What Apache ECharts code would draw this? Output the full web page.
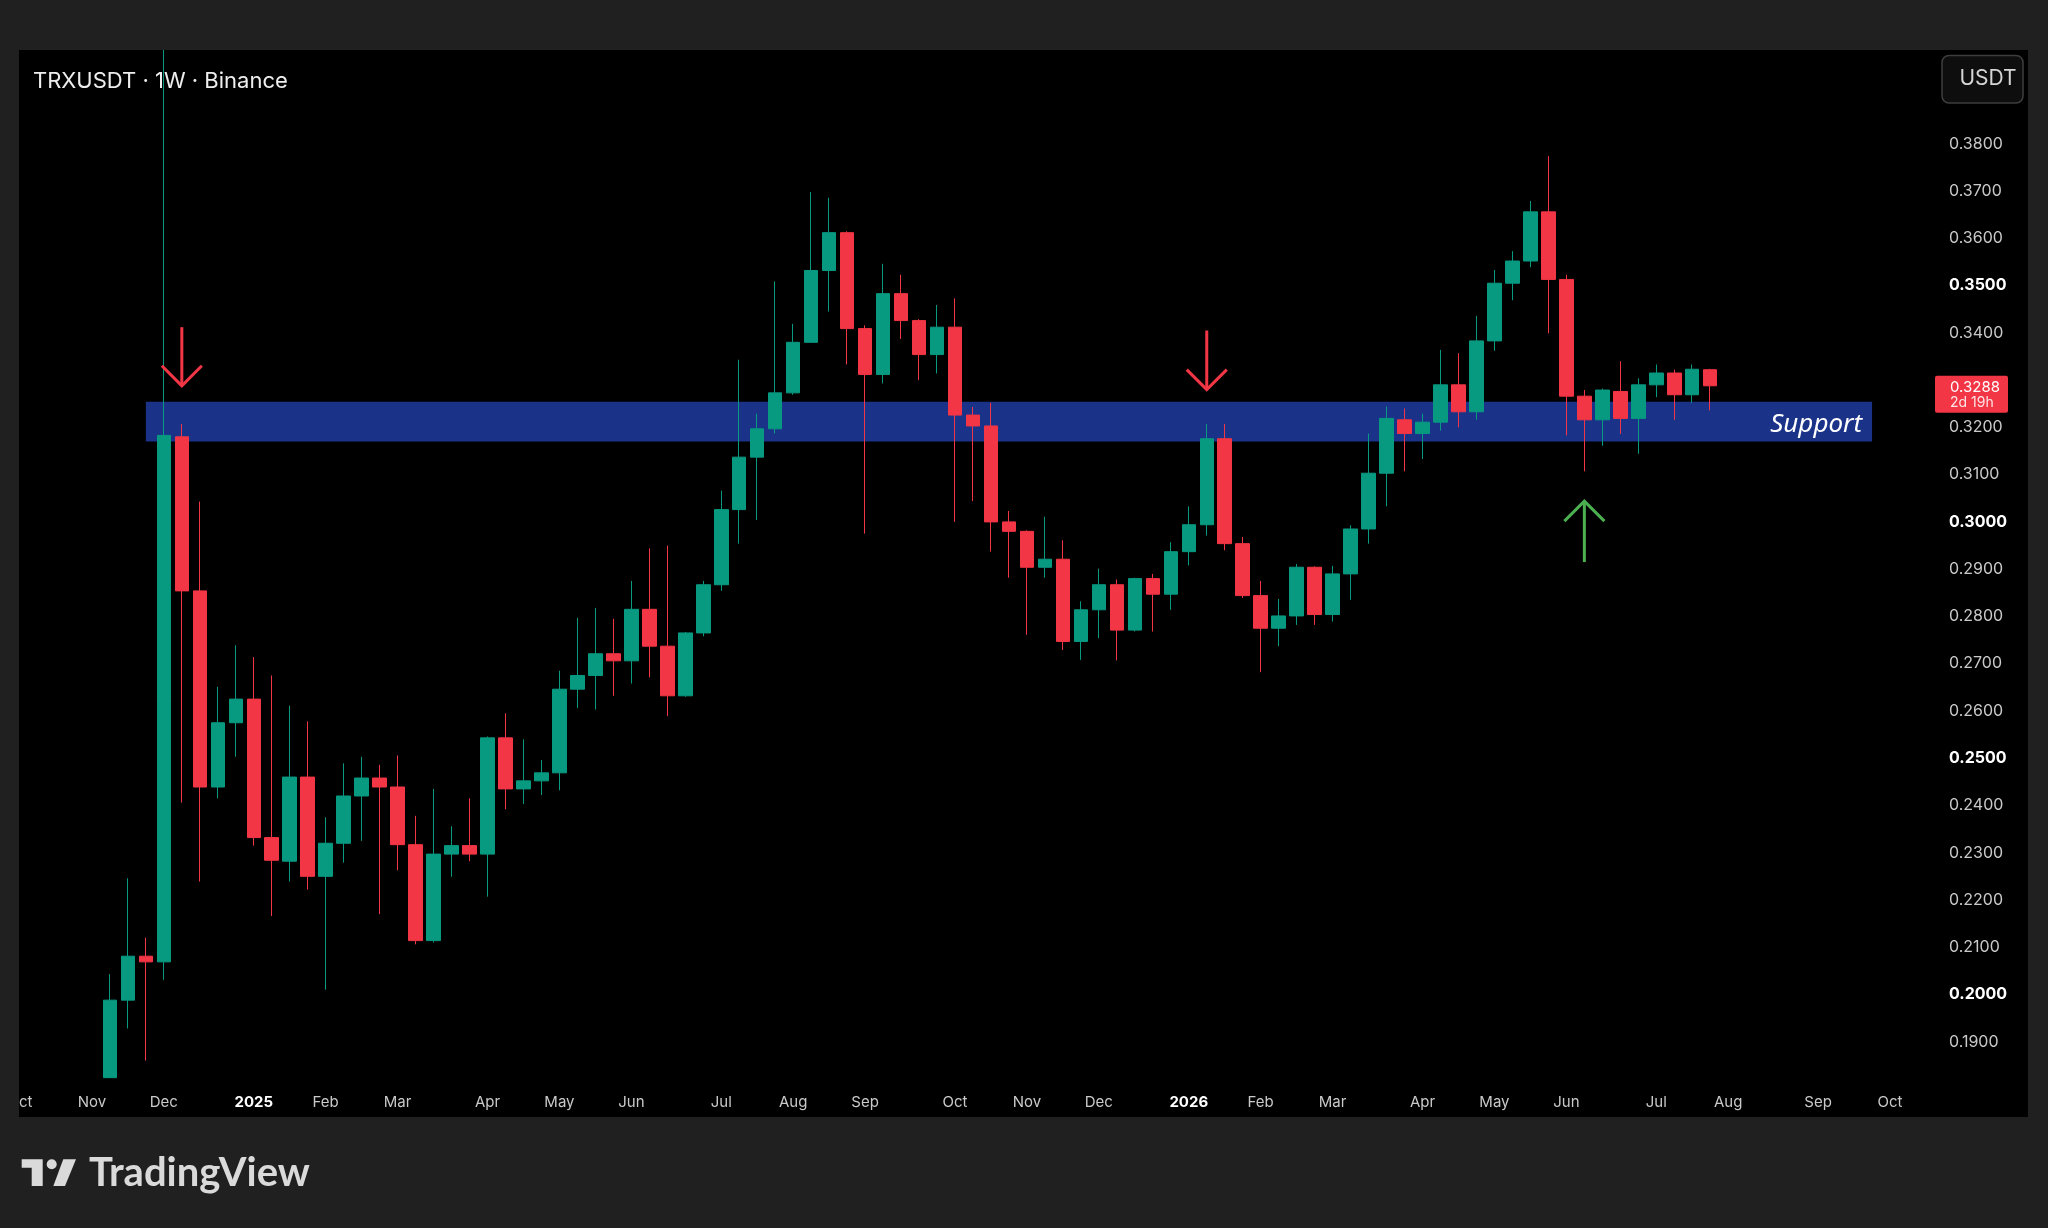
<!DOCTYPE html>
<html><head><meta charset="utf-8">
<script src="https://cdn.jsdelivr.net/npm/echarts@6/dist/echarts.min.js"></script>
<style>html,body{margin:0;padding:0;background:#202020;}#c{width:2048px;height:1228px;}</style>
</head><body><div id="c"></div>
<script>
// ---- data (weekly candles, TRXUSDT) ----
const firstWeekUTC = Date.UTC(2024, 9, 7);   // first category on the axis (Mon 2024-10-07)
const weekCount = 107;                       // categories shown on the axis
const candleStartIndex = 5;                  // first candle = 2024-11-11
const opens  = [0.1824,0.1988,0.2081,0.2069,0.3180,0.2854,0.2439,0.2575,0.2625,0.2332,
                0.2282,0.2460,0.2250,0.2320,0.2420,0.2458,0.2439,0.2317,0.2114,0.2297,
                0.2315,0.2297,0.2543,0.2435,0.2452,0.2469,0.2646,0.2675,0.2721,0.2706,
                0.2815,0.2737,0.2632,0.2765,0.2867,0.3026,0.3137,0.3197,0.3273,0.3380,
                0.3532,0.3612,0.3409,0.3312,0.3483,0.3426,0.3354,0.3412,0.3226,0.3203,
                0.3000,0.2980,0.2904,0.2921,0.2747,0.2814,0.2867,0.2771,0.2880,0.2847,
                0.2937,0.2994,0.3176,0.2954,0.2844,0.2775,0.2801,0.2904,0.2804,0.2890,
                0.2985,0.3103,0.3216,0.3187,0.3211,0.3290,0.3233,0.3383,0.3505,0.3552,
                0.3656,0.3513,0.3266,0.3216,0.3276,0.3219,0.3290,0.3315,0.3269,0.3322];
const closes = [0.1988,0.2081,0.2069,0.3183,0.2854,0.2439,0.2575,0.2625,0.2332,0.2284,
                0.2460,0.2250,0.2320,0.2420,0.2458,0.2439,0.2317,0.2114,0.2297,0.2315,
                0.2297,0.2543,0.2435,0.2452,0.2469,0.2646,0.2675,0.2721,0.2706,0.2815,
                0.2737,0.2632,0.2765,0.2867,0.3026,0.3137,0.3197,0.3273,0.3380,0.3532,
                0.3612,0.3409,0.3312,0.3483,0.3426,0.3354,0.3412,0.3226,0.3203,0.3000,
                0.2980,0.2904,0.2921,0.2747,0.2814,0.2867,0.2771,0.2880,0.2847,0.2937,
                0.2994,0.3176,0.2954,0.2844,0.2775,0.2801,0.2904,0.2804,0.2890,0.2985,
                0.3103,0.3219,0.3187,0.3211,0.3290,0.3233,0.3383,0.3505,0.3552,0.3656,
                0.3513,0.3266,0.3216,0.3279,0.3219,0.3290,0.3315,0.3269,0.3323,0.3288];
const lows   = [0.1824,0.1928,0.1860,0.2031,0.2406,0.2239,0.2415,0.2503,0.2315,0.2166,
                0.2239,0.2222,0.2010,0.2279,0.2325,0.2170,0.2263,0.2106,0.2110,0.2249,
                0.2282,0.2207,0.2392,0.2403,0.2422,0.2432,0.2606,0.2603,0.2632,0.2658,
                0.2671,0.2589,0.2630,0.2758,0.2854,0.2954,0.3004,0.3187,0.3269,0.3380,
                0.3445,0.3333,0.2975,0.3293,0.3387,0.3300,0.3314,0.3000,0.3044,0.2937,
                0.2882,0.2761,0.2882,0.2729,0.2708,0.2754,0.2707,0.2768,0.2768,0.2814,
                0.2908,0.2971,0.2940,0.2839,0.2682,0.2737,0.2782,0.2782,0.2789,0.2835,
                0.2954,0.3033,0.3107,0.3133,0.3193,0.3200,0.3216,0.3362,0.3469,0.3539,
                0.3399,0.3183,0.3107,0.3161,0.3186,0.3144,0.3264,0.3216,0.3252,0.3236];
const highs  = [0.2043,0.2246,0.2120,0.4500,0.3207,0.3043,0.2651,0.2739,0.2714,0.2675,
                0.2611,0.2578,0.2375,0.2489,0.2503,0.2486,0.2506,0.2378,0.2435,0.2356,
                0.2415,0.2546,0.2595,0.2540,0.2496,0.2685,0.2797,0.2818,0.2795,0.2875,
                0.2944,0.2950,0.2767,0.2875,0.3066,0.3343,0.3229,0.3509,0.3419,0.3698,
                0.3686,0.3615,0.3416,0.3546,0.3523,0.3429,0.3459,0.3473,0.3243,0.3252,
                0.3023,0.2982,0.3011,0.2961,0.2832,0.2901,0.2878,0.2882,0.2890,0.2957,
                0.3033,0.3207,0.3207,0.2968,0.2875,0.2837,0.2911,0.2906,0.2907,0.2993,
                0.3187,0.3244,0.3240,0.3229,0.3364,0.3357,0.3436,0.3533,0.3573,0.3679,
                0.3774,0.3523,0.3279,0.3282,0.3340,0.3304,0.3333,0.3322,0.3333,0.3324];
// annotations (candle index from first candle, prices)
const supportZone = {from: 2, to: 98, low: 0.3170, high: 0.3254, label: 'Support'};
const arrows = [
  {at: 4,  from: 0.3412, to: 0.3288, color: '#f23645'},
  {at: 61, from: 0.3405, to: 0.3280, color: '#f23645'},
  {at: 82, from: 0.2915, to: 0.3044, color: '#4caf50'}
];
const monthNames = ['Jan','Feb','Mar','Apr','May','Jun','Jul','Aug','Sep','Oct','Nov','Dec'];
const titleText = 'TRXUSDT · 1W · Binance';
const countdownText = '2d 19h';

// ---- build ----
const weeks = [];
for (let i = 0; i < weekCount; i++) {
  weeks.push(new Date(firstWeekUTC + i * 7 * 86400000).toISOString().slice(0, 10));
}
const candleData = opens.map((o, k) => [weeks[k + candleStartIndex], o, closes[k], lows[k], highs[k]]);
const lastClose = closes[closes.length - 1];
const isMonthStart = s => +s.slice(8, 10) <= 7;
const monthLabel = s => { const m = +s.slice(5, 7); return m === 1 ? '{y|' + s.slice(0, 4) + '}' : monthNames[m - 1]; };
const BG = '#202020';
const UP = '#089981', DOWN = '#f23645';

const chart = echarts.init(document.getElementById('c'), null, {renderer: 'canvas'});
const option = {
  animation: false,
  backgroundColor: BG,
  grid: {left: 20, right: 122, top: 49.3, height: 1039.7},
  xAxis: {
    type: 'category', data: weeks, boundaryGap: false,
    axisLine: {show: false}, axisTick: {show: false}, splitLine: {show: false},
    axisLabel: {
      interval: (i, v) => isMonthStart(v),
      formatter: v => monthLabel(v),
      color: '#c9c9c9', fontSize: 15, fontFamily: 'Inter', margin: 6,
      showMinLabel: true,
      rich: {y: {color: '#ffffff', fontWeight: 'bold', fontSize: 15, fontFamily: 'Inter'}}
    }
  },
  yAxis: {
    type: 'value', position: 'right', min: 0.18, max: 0.40, interval: 0.01, scale: true,
    axisLine: {show: false}, axisTick: {show: false}, splitLine: {show: false},
    axisLabel: {
      margin: 23, color: '#c9c9c9', fontSize: 16, fontFamily: 'Inter',
      formatter: v => {
        const c = Math.round(v * 100);
        if (c < 19 || c > 38) return '';
        if (Math.abs(c / 100 - lastClose) < 0.006) return '';   // covered by the price tag
        const s = (c / 100).toFixed(4);
        return c % 5 === 0 ? '{b|' + s + '}' : s;
      },
      rich: {b: {color: '#ffffff', fontWeight: 'bold', fontSize: 16, fontFamily: 'Inter'}}
    }
  },
  series: [
    {
      type: 'line', data: [], z: 1, silent: true,
      markArea: {
        silent: true,
        itemStyle: {color: '#1a3389', opacity: 1},
        label: {show: true, position: 'insideRight', distance: 10, offset: [0, 3], color: '#ffffff', fontStyle: 'italic', fontSize: 26, fontFamily: 'Noto Sans'},
        data: [[
          {name: supportZone.label, xAxis: weeks[supportZone.from + candleStartIndex], yAxis: supportZone.low},
          {xAxis: weeks[supportZone.to + candleStartIndex], yAxis: supportZone.high}
        ]]
      }
    },
    {
      type: 'candlestick', z: 3, barWidth: 14, clip: true,
      encode: {x: 0, y: [1, 2, 3, 4]},
      data: candleData,
      itemStyle: {color: UP, color0: DOWN, borderColor: UP, borderColor0: DOWN, borderWidth: 1}
    }
  ],
  graphic: [
    {type: 'rect', id: 'panel', z: -10, shape: {x: 19, y: 50, width: 2009, height: 1067}, style: {fill: '#000000'}},
    {type: 'rect', id: 'topmask', z: 100, shape: {x: 0, y: 0, width: 2048, height: 50}, style: {fill: BG}},
    {type: 'rect', id: 'leftmask', z: 100, shape: {x: 0, y: 1080, width: 19, height: 50}, style: {fill: BG}},
    {type: 'text', id: 'title', z: 50, style: {text: titleText, x: 33, y: 81.7, verticalAlign: 'middle', fill: '#eeeeee', font: '22px Inter'}},
    {type: 'rect', id: 'usdtbox', z: 50, shape: {x: 1942, y: 55.5, width: 81, height: 47.5, r: 7}, style: {fill: '#0e0e0e', stroke: '#3e3e3e', lineWidth: 1.5}},
    {type: 'text', id: 'usdt', z: 51, style: {text: 'USDT', x: 1988, y: 79, align: 'center', verticalAlign: 'middle', fill: '#d6d6d6', font: '21px Inter'}},
    {type: 'polygon', id: 'logo1', z: 50, shape: {points: [[21.7,1159.3],[42.7,1159.3],[42.7,1186],[31.7,1186],[31.7,1167.7],[21.7,1167.7]]}, style: {fill: '#dadada'}},
    {type: 'circle', id: 'logo2', z: 50, shape: {cx: 51.7, cy: 1164.3, r: 5}, style: {fill: '#dadada'}},
    {type: 'polygon', id: 'logo3', z: 50, shape: {points: [[63.3,1159.3],[76,1159.3],[65,1186],[53.3,1186]]}, style: {fill: '#dadada'}},
    {type: 'text', id: 'logotext', z: 50, style: {text: 'TradingView', x: 89, y: 1173, verticalAlign: 'middle', fill: '#dadada', font: 'bold 40px Lato'}}
  ]
};
chart.setOption(option);

// dynamic annotations anchored to data coordinates
const extra = [];
arrows.forEach((a, i) => {
  const x = chart.convertToPixel({xAxisIndex: 0}, weeks[a.at + candleStartIndex]);
  const y1 = chart.convertToPixel({yAxisIndex: 0}, a.from);
  const y2 = chart.convertToPixel({yAxisIndex: 0}, a.to);
  const dir = y2 > y1 ? 1 : -1;
  extra.push({type: 'line', id: 'ash' + i, z: 60, shape: {x1: x, y1: y1, x2: x, y2: y2}, style: {stroke: a.color, lineWidth: 3}});
  extra.push({type: 'polyline', id: 'ahd' + i, z: 60, shape: {points: [[x - 20, y2 - dir * 20], [x, y2], [x + 20, y2 - dir * 20]]}, style: {stroke: a.color, lineWidth: 3, fill: null}});
});
const yc = chart.convertToPixel({yAxisIndex: 0}, lastClose);
extra.push({type: 'rect', id: 'tag', z: 70, shape: {x: 1935, y: yc - 10, width: 73, height: 37, r: 2}, style: {fill: DOWN}});
extra.push({type: 'text', id: 'tagt1', z: 71, style: {text: lastClose.toFixed(4), x: 1950, y: yc + 1.5, verticalAlign: 'middle', fill: '#ffffff', font: '15px Inter'}});
extra.push({type: 'text', id: 'tagt2', z: 71, style: {text: countdownText, x: 1950, y: yc + 17.5, verticalAlign: 'middle', fill: '#fde3e5', font: '14px Inter'}});
chart.setOption({graphic: extra});
</script></body></html>
